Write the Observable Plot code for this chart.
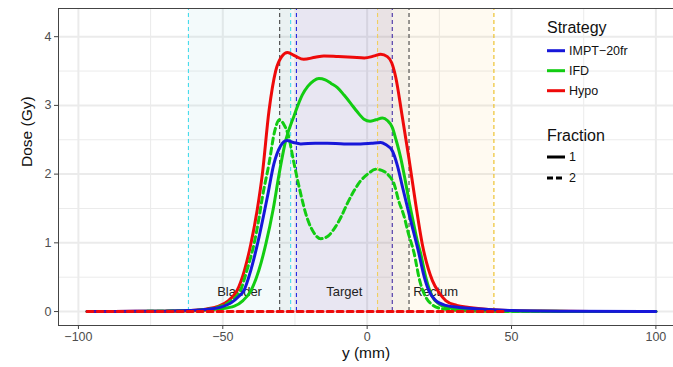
<!DOCTYPE html>
<html><head><meta charset="utf-8">
<script src="https://cdn.jsdelivr.net/npm/d3@7"></script>
<script src="https://cdn.jsdelivr.net/npm/@observablehq/plot@0.6"></script>
<style>body{margin:0;background:#fff} svg{display:block}</style>
</head><body><div id="chart"></div>
<script>
// ---------- data ----------
const strategies = ["IMPT-20fr", "IFD", "Hypo"];
const strategyColors = ["#1717d9", "#12cc12", "#ee0a0a"];
const fractions = ["1", "2"];

const hypo1X = [-97,-80,-70,-62,-57,-52,-48,-45,-42.5,-40.3,-38,-36.3,-34,-31.7,-29.6,-27.6,-25,-22,-18,-15,-10,-5,-1,2.5,4.7,7,8.5,9.9,12,14.5,16.8,19.1,22.6,25,27.2,31,35.3,42,50,60,80,100];
const hypo1D = [0,0.003,0.006,0.015,0.03,0.07,0.16,0.31,0.6,0.98,1.5,2.0,2.92,3.5,3.71,3.77,3.72,3.67,3.70,3.72,3.71,3.70,3.69,3.72,3.745,3.71,3.62,3.41,2.88,2.22,1.57,0.98,0.45,0.27,0.16,0.09,0.06,0.03,0.015,0.007,0.002,0];

const ifd1X = [-97,-80,-70,-62,-56,-51,-46,-43,-40.3,-37.5,-35.1,-32.5,-30.5,-28.2,-25.3,-22.5,-20.5,-18.5,-16.7,-14.5,-12.5,-10.3,-8,-5.7,-3.5,-1.1,1,3,5.3,7,8.7,10,11.6,13,14.5,16,17.4,18.5,20.3,22.5,24.9,28,31.8,40,50,70,100];
const ifd1D = [0,0.002,0.004,0.01,0.02,0.04,0.08,0.16,0.30,0.6,0.98,1.5,2.0,2.49,2.85,3.15,3.28,3.36,3.39,3.37,3.32,3.26,3.15,3.03,2.91,2.80,2.77,2.79,2.815,2.78,2.68,2.5,2.24,1.95,1.61,1.3,1.02,0.85,0.5,0.22,0.11,0.06,0.04,0.015,0.006,0.002,0];

const ifd2X = [-97,-80,-70,-62,-57,-52,-48,-44,-41.5,-39.2,-37.5,-36.3,-34,-32,-30.4,-28.8,-27.4,-25.3,-23.6,-20.7,-18.5,-16.1,-13.5,-11.5,-9,-6.9,-4.5,-2.3,0.5,2.9,5.8,7.5,9.3,11,12.7,14.2,16.2,18.2,20.3,22.5,24.9,28,32,40,55,100];
const ifd2D = [0,0.002,0.005,0.012,0.025,0.06,0.13,0.30,0.62,0.98,1.35,1.66,2.15,2.63,2.79,2.72,2.58,2.15,1.82,1.35,1.15,1.06,1.10,1.20,1.38,1.57,1.76,1.90,2.01,2.07,2.04,1.98,1.86,1.6,1.40,1.15,0.86,0.45,0.21,0.1,0.05,0.03,0.015,0.005,0,0];

const impt1X = [-97,-80,-70,-62,-56,-51,-47,-44.5,-42.7,-40.3,-38,-34.6,-32.3,-30,-27.8,-25.5,-23,-18,-13.8,-8,-2.3,1.5,4.7,6.4,8.7,10.5,12.2,15.1,17.9,19.5,21.4,23.5,27.2,32,37.6,50,70,100];
const impt1D = [0,0.003,0.006,0.015,0.03,0.06,0.13,0.22,0.305,0.6,0.98,1.66,2.15,2.41,2.49,2.46,2.44,2.45,2.45,2.44,2.44,2.45,2.46,2.43,2.34,2.12,1.82,1.32,0.85,0.55,0.3,0.17,0.09,0.06,0.04,0.015,0.005,0];

const hypo2X = [-97, 48];
const hypo2D = [0, 0];

// regions
const regionLabel = ["Bladder", "", "Target", "Rectum"];
const regionStart = [-61.9, -30.3, -24.5, 3.6];
const regionEnd   = [-26.5, 14.5, 8.7, 43.9];
const regionFill  = ["rgba(140,207,217,0.1)", "rgba(0,0,0,0.035)", "rgba(106,90,205,0.1)", "rgba(255,165,0,0.055)"];
const boundaryX     = [-61.9, -26.5, -30.3, 14.5, -24.5, 8.7, 3.6, 43.9];
const boundaryColor = ["#45dcec", "#45dcec", "#444444", "#444444", "#2424e0", "#4630a6", "#f0cf60", "#ebbd1e"];
const labelDose = 0.28;

// axes
const xMajor = [-100, -50, 0, 50, 100];
const xMinor = [-75, -25, 25, 75];
const yMajor = [0, 1, 2, 3, 4];
const yMinor = [0.5, 1.5, 2.5, 3.5];
const xDomain = [-106.9, 106.1];
const yDomain = [-0.203, 4.41];

// ---------- build ----------
const toRows = (xs, ds) => xs.map((x, i) => ({x, dose: ds[i]}));
const series = [
  {rows: toRows(hypo1X, hypo1D), color: strategyColors[2], dash: null},
  {rows: toRows(ifd1X, ifd1D), color: strategyColors[1], dash: null},
  {rows: toRows(ifd2X, ifd2D), color: strategyColors[1], dash: "6,4"},
  {rows: toRows(impt1X, impt1D), color: strategyColors[0], dash: null},
  {rows: toRows(hypo2X, hypo2D), color: strategyColors[2], dash: "6,4"}
];
const regions = regionLabel.map((l, i) => ({label: l, x1: regionStart[i], x2: regionEnd[i], fill: regionFill[i]}));
const boundaries = boundaryX.map((x, i) => ({x, color: boundaryColor[i]}));

const font = "'Liberation Sans', Arial, Helvetica, sans-serif";
const grid = "#ebebeb";
const numFmt = d3.format("~g");
const fmt = d => numFmt(d);

const plot = Plot.plot({
  width: 673, height: 367,
  marginLeft: 58, marginRight: 0, marginTop: 8, marginBottom: 42,
  style: {fontFamily: font, fontSize: "12.5px", color: "#444", background: "#fff"},
  x: {domain: xDomain, label: null},
  y: {domain: yDomain, label: null},
  marks: [
    Plot.ruleY(yMinor, {stroke: grid, strokeWidth: 1}),
    Plot.ruleX(xMinor, {stroke: grid, strokeWidth: 1}),
    Plot.ruleY(yMajor, {stroke: grid, strokeWidth: 2}),
    Plot.ruleX(xMajor, {stroke: grid, strokeWidth: 2}),
    Plot.rect(regions, {x1: "x1", x2: "x2", y1: 0, y2: yDomain[1], fill: "fill"}),
    Plot.ruleX(boundaries, {x: "x", y1: 0, y2: yDomain[1], stroke: "color", strokeWidth: 1.1, strokeDasharray: "4,3"}),
    Plot.text(regions.filter(d => d.label), {x: d => (d.x1 + d.x2) / 2, y: labelDose, text: "label", fontSize: 13, fill: "#222"}),
    ...series.map(s => Plot.line(s.rows, {x: "x", y: "dose", stroke: s.color, strokeWidth: 3, strokeDasharray: s.dash, curve: "monotone-x"})),
    Plot.frame({anchor: "left", stroke: "#444"}),
    Plot.frame({anchor: "top", stroke: "#444"}),
    Plot.frame({anchor: "bottom", stroke: "#444"}),
    Plot.axisX({ticks: xMajor, tickSize: 4, tickPadding: 3, label: null, fill: "#4d4d4d", tickFormat: fmt}),
    Plot.axisY({ticks: yMajor, tickSize: 4, tickPadding: 3, label: null, fill: "#4d4d4d", tickFormat: fmt}),
    Plot.text(["y (mm)"], {frameAnchor: "bottom", dy: 32, text: d => d, fontSize: 15.5, fill: "#111"}),
    Plot.text(["Dose (Gy)"], {frameAnchor: "left", dx: -31, rotate: -90, text: d => d, fontSize: 15.5, fill: "#111"})
  ]
});
document.getElementById("chart").appendChild(plot);

// ---------- legend (inside panel) ----------
const svg = d3.select(plot);
const lg = svg.append("g").attr("font-family", font).attr("text-anchor", "start");
lg.append("text").attr("x", 547).attr("y", 27).attr("dy", "0.35em").attr("font-size", 16).attr("fill", "#111").text("Strategy");
strategies.forEach((s, i) => {
  const y = 50.7 + i * 20;
  lg.append("line").attr("x1", 547).attr("x2", 565).attr("y1", y).attr("y2", y).attr("stroke", strategyColors[i]).attr("stroke-width", 3);
  lg.append("text").attr("x", 569).attr("y", y).attr("dy", "0.35em").attr("font-size", 12.5).attr("fill", "#111").text(s.replace("-", "\u2212"));
});
lg.append("text").attr("x", 547).attr("y", 135).attr("dy", "0.35em").attr("font-size", 16).attr("fill", "#111").text("Fraction");
fractions.forEach((f, i) => {
  const y = 157 + i * 21;
  lg.append("line").attr("x1", 547).attr("x2", 565).attr("y1", y).attr("y2", y).attr("stroke", "#000").attr("stroke-width", 3).attr("stroke-dasharray", i ? "6,3" : null);
  lg.append("text").attr("x", 569).attr("y", y).attr("dy", "0.35em").attr("font-size", 12.5).attr("fill", "#111").text(f);
});
</script></body></html>
